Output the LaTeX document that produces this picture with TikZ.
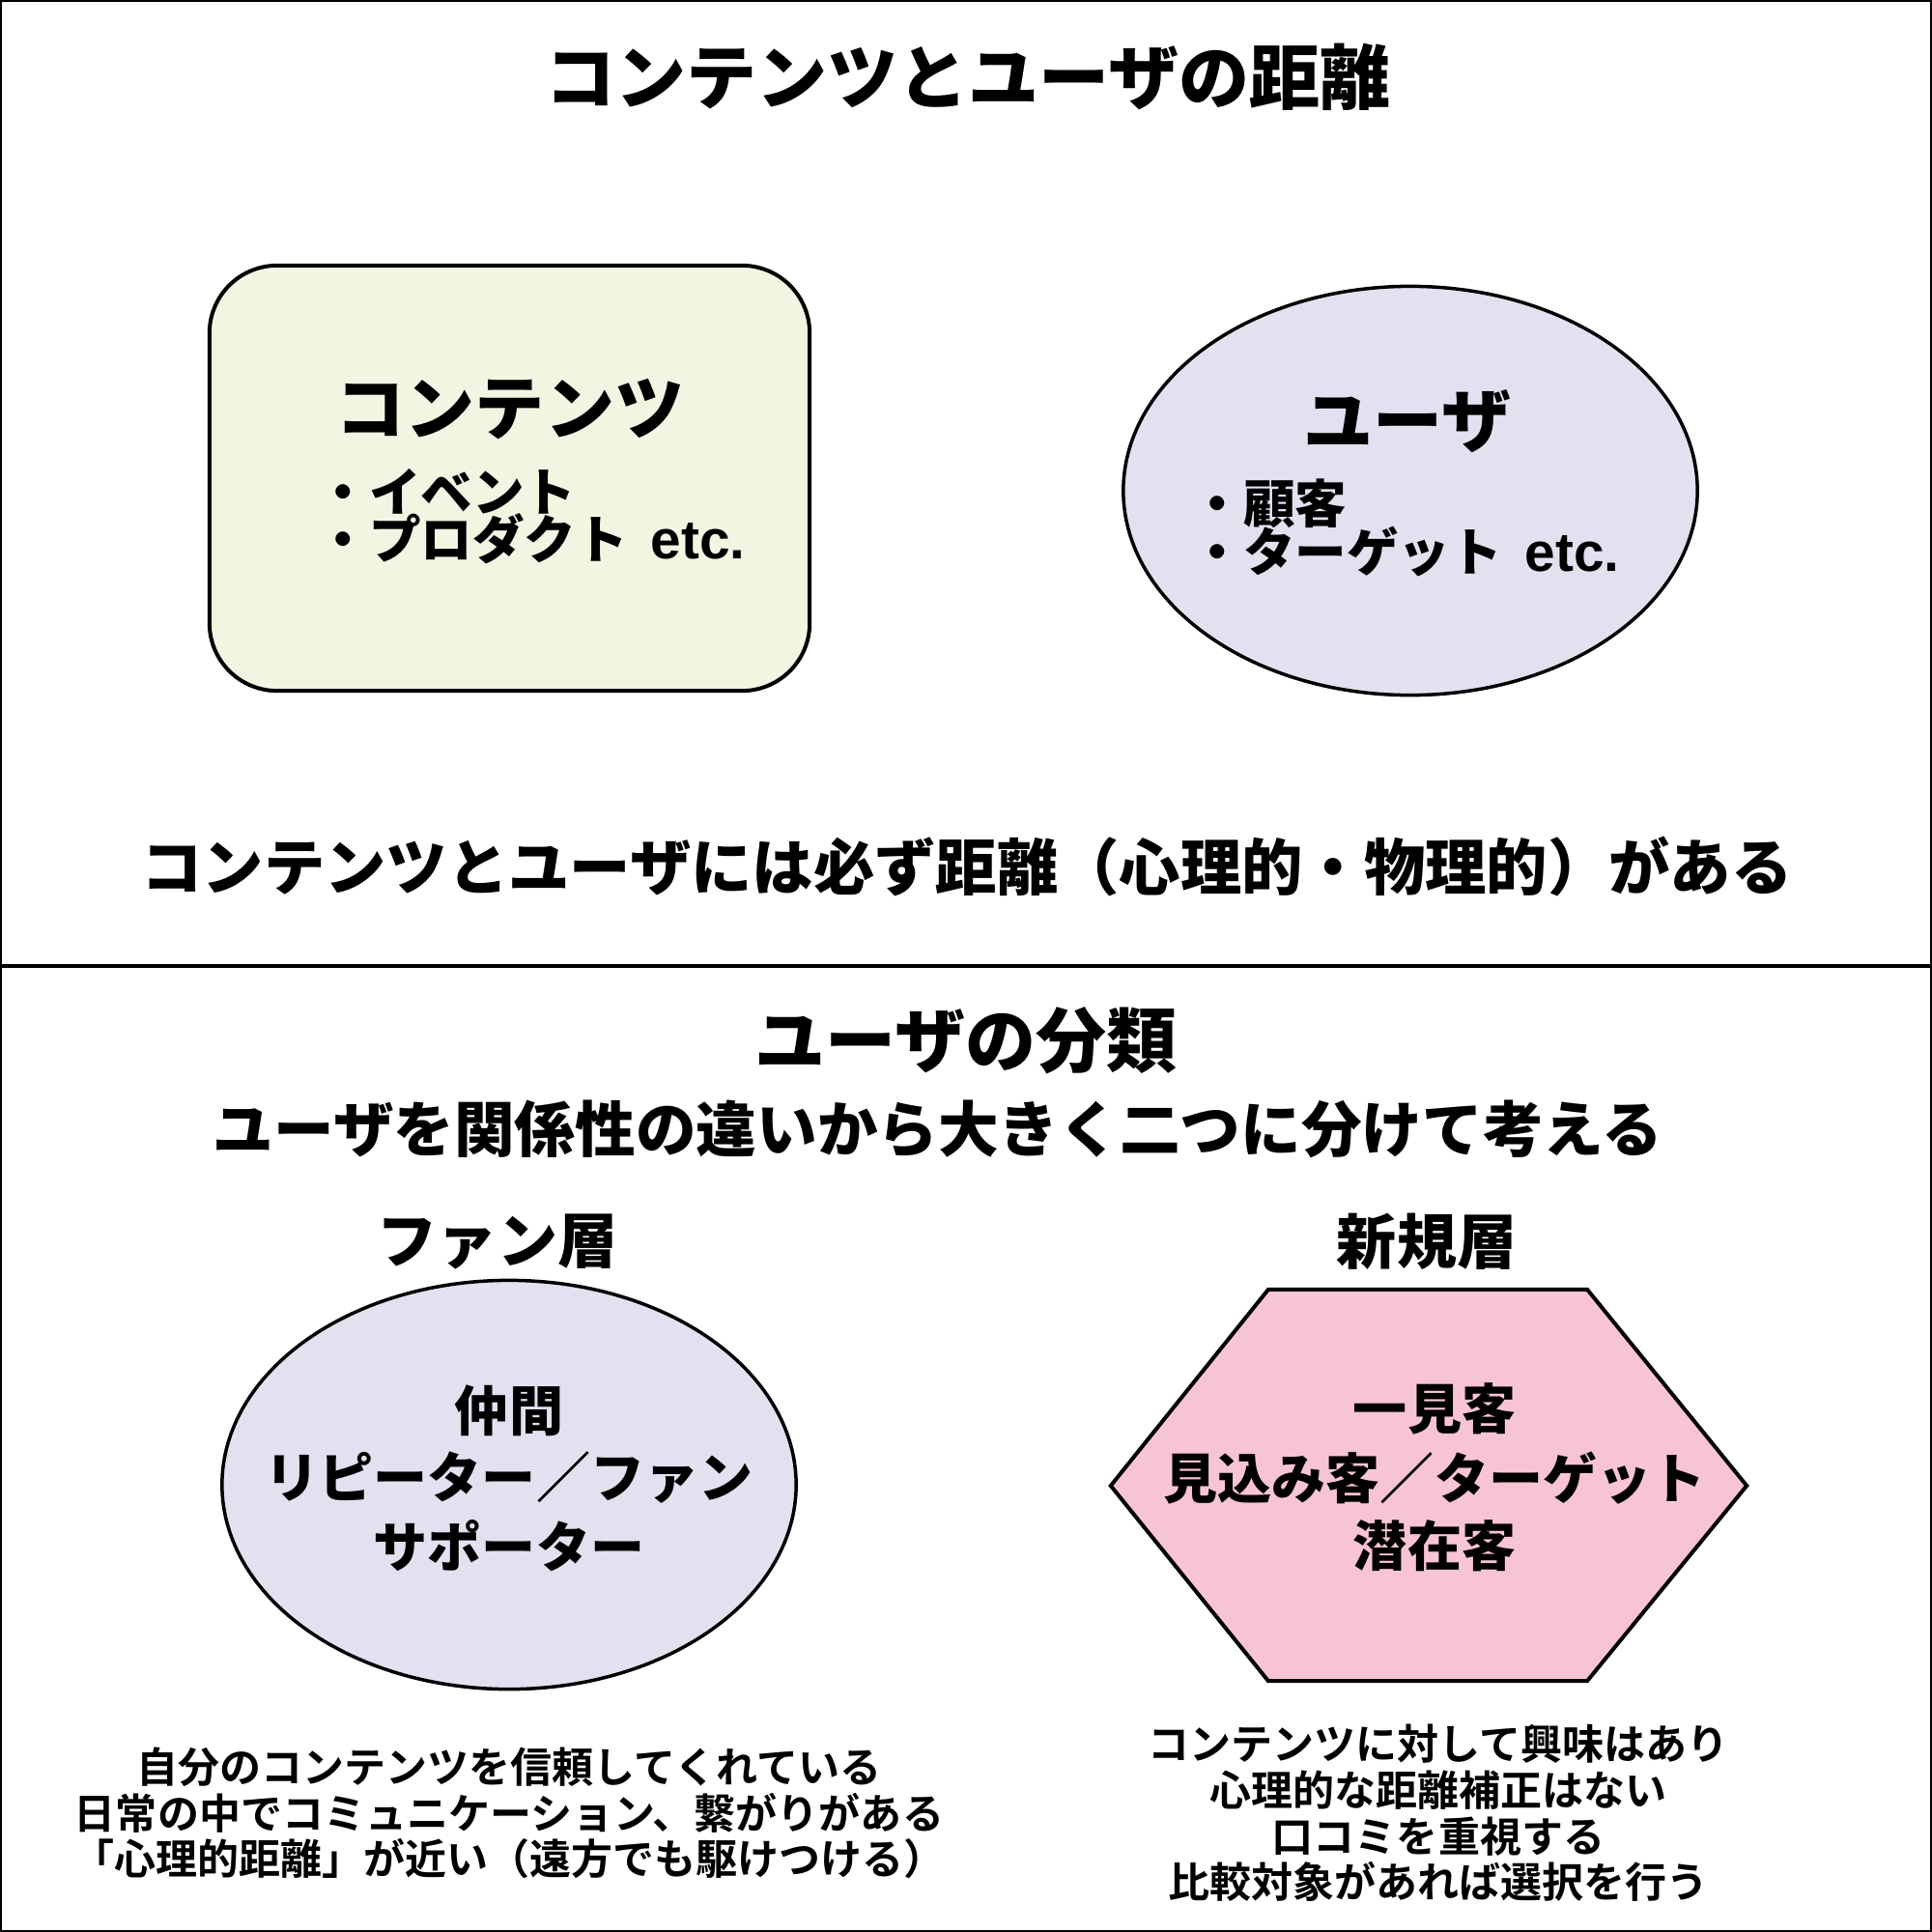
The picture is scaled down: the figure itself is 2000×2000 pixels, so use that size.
\documentclass[tikz,border=0pt]{standalone}
\usepackage{fontspec}
\setmainfont{Noto Sans CJK JP}
\newfontfamily\blackfont{Noto Sans CJK JP Black}
\newfontfamily\notefont{Noto Sans CJK JP Bold}
\newfontfamily\latinbold{Liberation Sans Bold}[Scale=1.06]
\usetikzlibrary{positioning,shapes.geometric}

\definecolor{boxgreen}{HTML}{F0F6E2}
\definecolor{ovallilac}{HTML}{E2E1F0}
\definecolor{hexpink}{HTML}{F7C4D6}

\newcommand\etcword{\hspace{0.45em}{\latinbold etc.}}

\begin{document}
\begin{tikzpicture}[x=0.01cm,y=-0.01cm,
	hd/.style={font=\blackfont\fontsize{#1}{#1}\selectfont, inner sep=0pt},
	item/.style={font=\blackfont\fontsize{0.535cm}{0.535cm}\selectfont, inner sep=0pt, anchor=west},
	note/.style={font=\notefont\fontsize{0.43cm}{0.477cm}\selectfont, inner sep=0pt, align=center},
	c_box/.style={
		rectangle,
		minimum width=6.21cm,
		minimum height=4.4cm,
		line width=0.04cm,
		draw=black,
		fill=boxgreen,
		rounded corners=0.7cm,
		},
	u_oval/.style={
		ellipse,
		minimum width=5.94cm,
		minimum height=4.23cm,
		line width=0.035cm,
		draw=black,
		fill=ovallilac,
		}]

	\useasboundingbox (0,0) rectangle (2000,2000);
	\draw[line width=0.02cm] (1,1) rectangle (1999,1999);
	\draw[line width=0.04cm] (0,1000) -- (2000,1000);

	% top half
	\node(title)[hd=0.73cm] at (1002,80) {コンテンツとユーザの距離};

	\node(cbox)[c_box] at (527.5,495) {};
	\node(chead)[hd=0.72cm] at (528,424) {コンテンツ};
	\node(citem1)[item] at (328,509) {・イベント};
	\node(citem2)[item] at (328,558) {・プロダクト\etcword};

	\node(uoval)[u_oval] at (1460,508) {};
	\node(uhead)[hd=0.72cm] at (1457,436) {ユーザ};
	\node(uitem1)[item] at (1233,521) {・顧客};
	\node(uitem2)[item] at (1233,571) {・ターゲット\etcword};

	\node(dist)[hd=0.633cm] at (1001,897) {コンテンツとユーザには必ず距離（心理的・物理的）がある};

	% bottom half
	\node(kind)[hd=0.73cm] at (1000,1077) {ユーザの分類};
	\node(kindsub)[hd=0.626cm] at (971,1169) {ユーザを関係性の違いから大きく二つに分けて考える};

	\node(fan)[hd=0.62cm] at (515,1285) {ファン層};
	\node(newc)[hd=0.62cm] at (1477,1285) {新規層};

	\node(fanoval)[u_oval] at (527,1537) {};
	\node(fan1)[hd=0.56cm] at (527,1460) {仲間};
	\node(fan2)[hd=0.56cm] at (527,1530) {リピーター／ファン};
	\node(fan3)[hd=0.56cm] at (527,1600) {サポーター};

	\coordinate(hx) at (1479,1538);
	\draw[line width=0.04cm, fill=hexpink]
		([xshift=-1.66cm,yshift=2.03cm]hx) -- ([xshift=1.64cm,yshift=2.03cm]hx)
		-- ([xshift=3.29cm]hx) -- ([xshift=1.64cm,yshift=-2.02cm]hx)
		-- ([xshift=-1.66cm,yshift=-2.02cm]hx) -- ([xshift=-3.29cm]hx) -- cycle;
	\node(new1)[hd=0.56cm] at (1485,1458) {一見客};
	\node(new2)[hd=0.56cm] at (1485,1530) {見込み客／ターゲット};
	\node(new3)[hd=0.56cm] at (1485,1600) {潜在客};

	\node(fannote)[note] at (527,1877) {自分のコンテンツを信頼してくれている\\日常の中でコミュニケーション、繋がりがある\\「心理的距離」が近い（遠方でも駆けつける）};
	\node(newnote)[note] at (1489,1877) {コンテンツに対して興味はあり\\心理的な距離補正はない\\口コミを重視する\\比較対象があれば選択を行う};

\end{tikzpicture}
\end{document}
